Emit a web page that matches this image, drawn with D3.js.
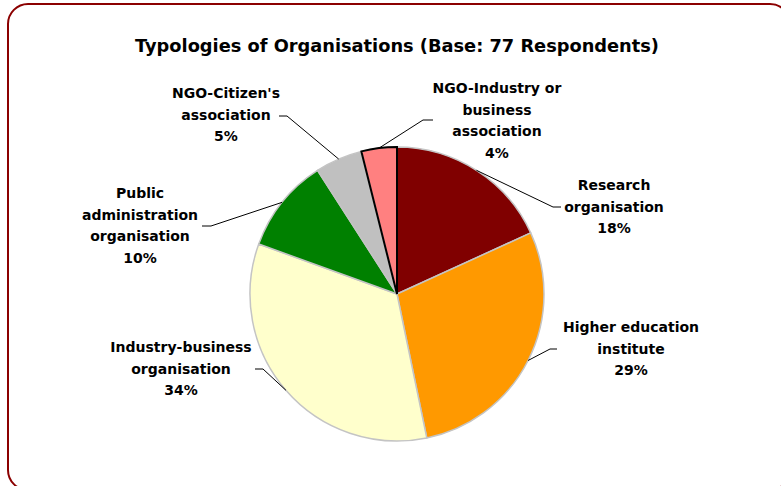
<!DOCTYPE html>
<html>
<head>
<meta charset="utf-8">
<script src="https://cdn.jsdelivr.net/npm/d3@7"></script>
<style>
  html, body { margin: 0; padding: 0; background: #fff; }
  svg { display: block; }
  text { font-family: "DejaVu Sans", sans-serif; fill: #000; }
</style>
</head>
<body>
<svg id="chart" width="781" height="486"></svg>
<script>
// ---- data ----
const title = "Typologies of Organisations (Base: 77 Respondents)";
const categories = [
  "Research organisation",
  "Higher education institute",
  "Industry-business organisation",
  "Public administration organisation",
  "NGO-Citizen's association",
  "NGO-Industry or business association"
];
const labelLines = [
  ["Research", "organisation"],
  ["Higher education", "institute"],
  ["Industry-business", "organisation"],
  ["Public", "administration", "organisation"],
  ["NGO-Citizen's", "association"],
  ["NGO-Industry or", "business", "association"]
];
const respondents = [14, 22, 26, 8, 4, 3];
const colors = ["#800000", "#FF9900", "#FFFFCC", "#008000", "#C0C0C0", "#FF8080"];

// ---- layout ----
const cx = 397, cy = 294, R = 147;
const svg = d3.select("#chart");

// outer frame (rounded, extends past right/bottom edges)
svg.append("rect")
  .attr("x", 8).attr("y", 4)
  .attr("width", 782).attr("height", 486)
  .attr("rx", 20).attr("ry", 20)
  .attr("fill", "#fff")
  .attr("stroke", "#8B0000")
  .attr("stroke-width", 2);

svg.append("text")
  .attr("x", cx).attr("y", 52)
  .attr("text-anchor", "middle")
  .style("font-size", "17.8px").style("font-weight", "bold")
  .text(title);

const total = d3.sum(respondents);
const data = categories.map((c, i) => ({
  name: c, value: respondents[i], color: colors[i], lines: labelLines[i],
  pct: Math.round(respondents[i] / total * 100) + "%"
}));

const pie = d3.pie().value(d => d.value).sort(null).startAngle(0).endAngle(2 * Math.PI);
const arcs = pie(data);
const arc = d3.arc().innerRadius(0).outerRadius(R);

const g = svg.append("g").attr("transform", `translate(${cx},${cy})`);
g.selectAll("path.slice")
  .data(arcs).enter().append("path")
  .attr("class", "slice")
  .attr("d", arc)
  .attr("fill", d => d.data.color)
  .attr("stroke", "#C4C4C4")
  .attr("stroke-width", 1.5)
  .attr("stroke-linejoin", "round");
// highlighted last slice (black outline)
g.append("path")
  .attr("d", arc(arcs[5]))
  .attr("fill", "none")
  .attr("stroke", "#000")
  .attr("stroke-width", 2)
  .attr("stroke-linejoin", "miter");

// label placement (center x, first baseline, leader elbow/tick)
const labelPos = [
  { x: 614, y: 190, elbow: [553, 207], tick: [561, 207] },
  { x: 631, y: 332, elbow: [550, 349], tick: [557, 349] },
  { x: 181, y: 352, elbow: [263, 369], tick: [255, 369] },
  { x: 140, y: 198, elbow: [211, 226], tick: [202, 226] },
  { x: 226, y: 98,  elbow: [287, 116], tick: [279, 116] },
  { x: 497, y: 93,  elbow: [423, 120], tick: [433, 120] }
];
const lineH = 21.6;

arcs.forEach((a, i) => {
  const mid = (a.startAngle + a.endAngle) / 2;
  const px = cx + R * Math.sin(mid), py = cy - R * Math.cos(mid);
  const p = labelPos[i];
  svg.append("polyline")
    .attr("points", [[px, py], p.elbow, p.tick].map(q => q.join(",")).join(" "))
    .attr("fill", "none").attr("stroke", "#000").attr("stroke-width", 1);
  const t = svg.append("text")
    .attr("text-anchor", "middle")
    .style("font-size", "14px").style("font-weight", "bold");
  const lines = a.data.lines.concat([a.data.pct]);
  lines.forEach((ln, k) => {
    t.append("tspan").attr("x", p.x).attr("y", p.y + k * lineH).text(ln);
  });
});
</script>
</body>
</html>
